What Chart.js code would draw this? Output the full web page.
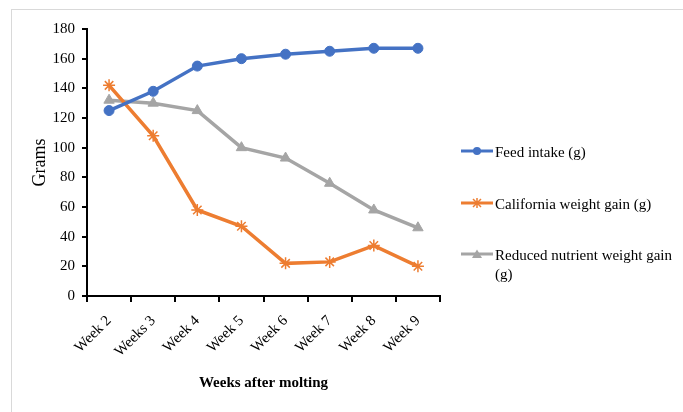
<!DOCTYPE html>
<html>
<head>
<meta charset="utf-8">
<script src="https://cdn.jsdelivr.net/npm/chart.js@4.4.1/dist/chart.umd.min.js"></script>
<style>
  html, body { margin: 0; padding: 0; background: #fff; }
  #wrap { position: relative; width: 683px; height: 412px; overflow: hidden; }
  #frame { position: absolute; left: 11px; top: 9px; width: 672px; height: 403px;
           border-top: 1px solid #d9d9d9; border-left: 1px solid #d9d9d9; box-sizing: border-box; }
  canvas { position: absolute; left: 0; top: 0; }
  #legend { position: absolute; left: 461px; top: 140px; width: 215px;
            font-family: "Liberation Serif", "Times New Roman", serif; font-size: 15px; color: #000; }
  .item { position: absolute; left: 0; display: flex; align-items: flex-start; }
  .item svg { flex: none; margin-top: 2px; }
  .item span { margin-left: 2px; line-height: 19px; width: 182px; }
</style>
</head>
<body>
<div id="wrap">
  <div id="frame"></div>
  <canvas id="c" width="683" height="412"></canvas>
  <div id="legend"></div>
</div>
<script>
// Weekly figures after molting (grams)
const weeks = ["Week 2", "Weeks 3", "Week 4", "Week 5", "Week 6", "Week 7", "Week 8", "Week 9"];
const feedIntake = [125, 138, 155, 160, 163, 165, 167, 167];
const californiaGain = [142, 108, 58, 47, 22, 23, 34, 20];
const reducedGain = [132, 130, 125, 100, 93, 76, 58, 46];
const yTicks = [0, 20, 40, 60, 80, 100, 120, 140, 160, 180];

const BLUE = "#4472C4", ORANGE = "#ED7D31", GREY = "#A5A5A5";
const SERIF = '"Liberation Serif", "Times New Roman", serif';

const series = [
  { label: "Feed intake (g)", data: feedIntake, color: BLUE, style: "circle", radius: 5 },
  { label: "California weight gain (g)", data: californiaGain, color: ORANGE, style: "star", radius: 6 },
  { label: "Reduced nutrient weight gain (g)", data: reducedGain, color: GREY, style: "triangle", radius: 6 }
];

new Chart(document.getElementById("c"), {
  type: "line",
  data: {
    labels: weeks,
    datasets: series.map(s => ({
      label: s.label,
      data: s.data,
      borderColor: s.color,
      backgroundColor: s.color,
      borderWidth: 3.5,
      pointStyle: s.style,
      pointRadius: s.radius,
      pointBorderColor: s.color,
      pointBackgroundColor: s.color,
      pointBorderWidth: s.style === "star" ? 1.5 : 1,
      tension: 0
    }))
  },
  options: {
    responsive: false,
    animation: false,
    layout: { padding: { left: 11, top: 29, right: 243, bottom: 0 } },
    plugins: { legend: { display: false }, tooltip: { enabled: false } },
    scales: {
      x: {
        offset: true,
        afterFit: s => { s.height = 116; },
        border: { color: "#000", width: 2 },
        grid: { display: true, offset: true, drawOnChartArea: false, drawTicks: true, tickLength: 6, color: "#000", lineWidth: 2 },
        ticks: { font: { family: SERIF, size: 15 }, color: "#000", maxRotation: 45, minRotation: 45, padding: 10, autoSkip: false },
        title: { display: true, text: "Weeks after molting", color: "#000",
                 font: { family: SERIF, size: 15, weight: "bold" }, padding: { top: 0, bottom: 20 } }
      },
      y: {
        min: 0, max: 180,
        afterFit: s => { s.width = 76; },
        afterBuildTicks: s => { s.ticks = yTicks.map(v => ({ value: v })); },
        border: { color: "#000", width: 2 },
        grid: { display: true, drawOnChartArea: false, drawTicks: true, tickLength: 5, color: "#000", lineWidth: 2 },
        ticks: { font: { family: SERIF, size: 15 }, color: "#000", padding: 7 },
        title: { display: true, text: "Grams", color: "#000",
                 font: { family: SERIF, size: 18 }, padding: { top: 18 } }
      }
    }
  }
});

// Legend at the right of the plot
function marker(s) {
  const ns = 'xmlns="http://www.w3.org/2000/svg"';
  let m = "";
  if (s.style === "circle") m = `<circle cx="16" cy="6" r="4" fill="${s.color}"/>`;
  else if (s.style === "star") m = `<path d="M12,2 L20,10 M20,2 L12,10 M16,1 L16,11" stroke="${s.color}" stroke-width="1.5"/>`;
  else m = `<path d="M16,1.5 L21,10 L11,10 Z" fill="${s.color}"/>`;
  return `<svg ${ns} width="32" height="12"><line x1="0" y1="6" x2="32" y2="6" stroke="${s.color}" stroke-width="3"/>${m}</svg>`;
}
const legendTops = [3, 55, 106];
const legend = document.getElementById("legend");
series.forEach((s, i) => {
  const d = document.createElement("div");
  d.className = "item";
  d.style.top = legendTops[i] + "px";
  d.innerHTML = marker(s) + `<span>${s.label}</span>`;
  legend.appendChild(d);
});
</script>
</body>
</html>
